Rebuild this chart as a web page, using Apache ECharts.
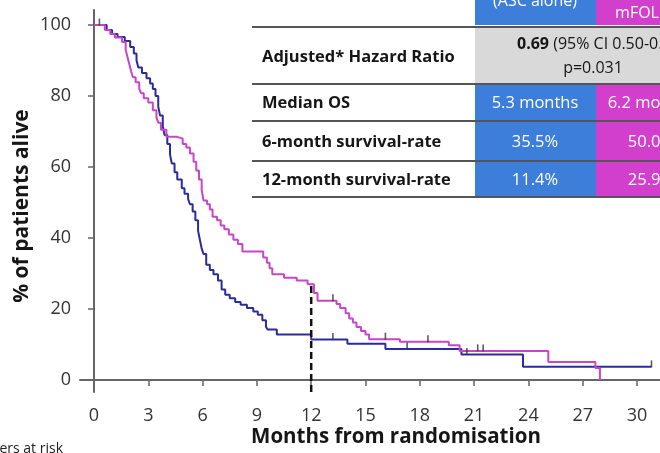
<!DOCTYPE html>
<html>
<head>
<meta charset="utf-8">
<script src="https://cdn.jsdelivr.net/npm/echarts@6/dist/echarts.min.js"></script>
<style>
  html, body { margin: 0; padding: 0; background: #fff; }
  #chart { width: 660px; height: 453px; }
</style>
</head>
<body>
<div id="chart"></div>
<script>
// Kaplan-Meier overall survival, months from randomisation
// ASC alone arm
const ascTimes = [0,0.7,1.0,1.3,1.7,2.0,2.2,2.35,2.45,2.65,2.9,3.1,3.25,3.4,3.55,3.65,3.8,3.9,4.05,4.2,4.3,4.45,4.6,4.85,5.0,5.2,5.3,5.45,5.6,5.75,5.85,5.95,6.05,6.2,6.4,6.6,6.85,7.05,7.25,7.5,7.8,8.1,8.45,8.8,9.05,9.3,9.5,9.6,10.1,12.0,14.0,16.1,20.3,23.7,30.8];
const ascSurv  = [100,98.6,97.5,96.6,95.5,93.8,92,90,88,86.5,85,83.5,82,80,77,74.5,71.5,69,66.5,63.5,61,58.5,56.5,54,52.5,51,49.5,47.5,45,42,39.5,37,35.5,32.5,31,29.8,28,25.5,24,23,22,21.2,20.3,19.3,18.4,16.8,15,14.2,12.8,11.4,10.2,8.7,7.2,3.7,3.7];
const ascCensorTimes = [0.3,13.2,17.3,20.6,30.8];
const ascCensorSurv  = [100,11.4,8.7,7.2,3.7];

// mFOLFOX + ASC arm
const folTimes = [0,0.6,0.9,1.15,1.55,1.75,1.85,1.95,2.05,2.15,2.3,2.5,2.6,2.75,3.0,3.25,3.45,3.55,3.7,4.0,4.6,4.9,5.1,5.3,5.5,5.65,5.8,5.95,6.05,6.25,6.4,6.55,6.8,7.0,7.2,7.45,7.7,7.95,8.2,9.35,9.55,9.7,9.85,10.5,11.2,11.8,12.15,12.35,13.4,13.6,13.9,14.1,14.3,14.5,14.75,15.0,15.2,16.9,19.6,20.2,25.1,27.7,27.95];
const folSurv  = [100,98.6,97.5,96.5,95.2,93,91,89,87,85.3,83.9,82,80.8,79.4,78.2,76,74,72.5,70.5,68.5,68,66.5,65.5,63.8,61.5,59,56.5,53.5,50.6,49.5,48,46,45,43.5,42.5,41,39.5,38.3,36.2,34.5,33,31.5,29.8,28.8,28,27,24.5,22.3,21.4,20.3,18.8,17.3,16.2,14.9,13.8,12.8,11.5,10.8,9.8,8.2,5.1,3.4,0];
const folCensorTimes = [13.2,16.1,18.45,21.2,21.5];
const folCensorSurv  = [22.3,11.5,10.8,8.2,8.2];

// 12-month reference line
const landmarkMonth = 12;
const landmarkTop = 26.5;

const xTicks = [0,3,6,9,12,15,18,21,24,27,30];
const yTicks = [0,20,40,60,80,100];

// Summary table contents
const tableHeaders = ['(ASC alone)', 'mFOLFOX'];
const rowLabels = ['Adjusted* Hazard Ratio', 'Median OS', '6-month survival-rate', '12-month survival-rate'];
const hrText = ['0.69', ' (95% CI 0.50-0.96)', 'p=0.031'];
const ascValues = ['5.3 months', '35.5%', '11.4%'];
const folValues = ['6.2 months', '50.0%', '25.9%'];

const zip = (a, b) => a.map((v, i) => [v, b[i]]);

const FONT = '"Open Sans", Lato, sans-serif';
const BLUE_CELL = '#3c7ed9';
const MAG_CELL = '#d23fcc';
const GREY_CELL = '#d9d9d9';
const RULE = '#555';
const INK = '#161616';

const graphic = [];
// table cells
graphic.push({ type: 'rect', shape: { x: 475, y: 0, width: 121, height: 25 }, style: { fill: BLUE_CELL } });
graphic.push({ type: 'rect', shape: { x: 596, y: 0, width: 120, height: 25 }, style: { fill: MAG_CELL } });
graphic.push({ type: 'rect', shape: { x: 475, y: 28, width: 245, height: 55 }, style: { fill: GREY_CELL } });
const rowBands = [[85, 120], [122, 160], [162, 196]];
rowBands.forEach(([a, b]) => {
  graphic.push({ type: 'rect', shape: { x: 475, y: a, width: 121, height: b - a }, style: { fill: BLUE_CELL } });
  graphic.push({ type: 'rect', shape: { x: 596, y: a, width: 120, height: b - a }, style: { fill: MAG_CELL } });
});
// horizontal rules
[27, 84, 121, 161, 197].forEach(y => {
  graphic.push({ type: 'line', shape: { x1: 252, y1: y, x2: 660, y2: y }, style: { stroke: RULE, lineWidth: 2 } });
});
// header texts
graphic.push({ type: 'text', style: { text: tableHeaders[0], x: 535, y: 1, textAlign: 'center', textVerticalAlign: 'middle', font: '16px ' + FONT, fill: '#fff' } });
graphic.push({ type: 'text', style: { text: tableHeaders[1], x: 652, y: 13, textAlign: 'center', textVerticalAlign: 'middle', font: '16px ' + FONT, fill: '#fff' } });
// row labels
const rowY = [57, 103, 142, 180];
rowLabels.forEach((t, i) => {
  graphic.push({ type: 'text', style: { text: t, x: 262, y: rowY[i], textAlign: 'left', textVerticalAlign: 'middle', font: 'bold 16.5px ' + FONT, fill: INK } });
});
// hazard ratio cell
graphic.push({ type: 'text', style: {
  text: '{b|' + hrText[0] + '}{r|' + hrText[1] + '}', x: 517, y: 44, textAlign: 'left', textVerticalAlign: 'middle',
  rich: { b: { font: 'bold 16px ' + FONT, fill: INK }, r: { font: '16px ' + FONT, fill: INK } }
} });
graphic.push({ type: 'text', style: { text: hrText[2], x: 593, y: 68, textAlign: 'center', textVerticalAlign: 'middle', font: '16px ' + FONT, fill: INK } });
// arm values
ascValues.forEach((t, i) => {
  graphic.push({ type: 'text', style: { text: t, x: 535, y: rowY[i + 1], textAlign: 'center', textVerticalAlign: 'middle', font: '16.5px ' + FONT, fill: '#fff' } });
});
folValues.forEach((t, i) => {
  graphic.push({ type: 'text', style: { text: t, x: 651, y: rowY[i + 1], textAlign: 'center', textVerticalAlign: 'middle', font: '16.5px ' + FONT, fill: '#fff' } });
});
// axis titles
graphic.push({ type: 'text', x: 22, y: 206, rotation: Math.PI / 2, style: { text: '% of patients alive', x: 0, y: 0, textAlign: 'center', textVerticalAlign: 'middle', font: 'bold 21px ' + FONT, fill: INK } });
graphic.push({ type: 'text', style: { text: 'Months from randomisation', x: 396, y: 437, textAlign: 'center', textVerticalAlign: 'middle', font: 'bold 20.5px ' + FONT, fill: INK } });
graphic.push({ type: 'text', style: { text: 'Numbers at risk', x: 63, y: 442, textAlign: 'right', textVerticalAlign: 'top', font: '14px ' + FONT, fill: '#222' } });

const censorSymbol = { symbol: 'rect', symbolSize: [1.6, 7], symbolOffset: [0, -3] };

const chart = echarts.init(document.getElementById('chart'), null, { renderer: 'canvas' });
chart.setOption({
  animation: false,
  backgroundColor: '#fff',
  grid: { left: 80, right: 0, top: 10, bottom: 61, containLabel: false },
  xAxis: {
    type: 'value', min: -0.773, max: 31.27,
    splitLine: { show: false },
    axisLine: { show: true, lineStyle: { color: '#666', width: 2 } },
    axisTick: { show: true, customValues: xTicks, length: 6, lineStyle: { color: '#666', width: 1.5 } },
    axisLabel: { customValues: xTicks, margin: 15, fontSize: 18, fontFamily: FONT, color: '#333' }
  },
  yAxis: {
    type: 'value', min: -3.38, max: 104.23,
    splitLine: { show: false },
    axisLine: { show: true, lineStyle: { color: '#666', width: 2 } },
    axisTick: { show: true, customValues: yTicks, length: 6, lineStyle: { color: '#666', width: 1.5 } },
    axisLabel: { customValues: yTicks, margin: 9, fontSize: 18, fontFamily: FONT, color: '#333' }
  },
  graphic: graphic,
  series: [
    {
      name: 'ASC alone', type: 'line', step: 'end', symbol: 'none',
      data: zip(ascTimes, ascSurv),
      lineStyle: { color: '#2b2c9c', width: 2 }, z: 3
    },
    {
      name: 'mFOLFOX + ASC', type: 'line', step: 'end', symbol: 'none',
      data: zip(folTimes, folSurv),
      lineStyle: { color: '#c845c8', width: 2 }, z: 4
    },
    {
      name: 'landmark', type: 'line', symbol: 'none',
      data: [[landmarkMonth, landmarkTop], [landmarkMonth, -3.38]],
      lineStyle: { color: '#111', width: 2.5, type: [7, 4] }, z: 5
    },
    Object.assign({ name: 'ASC censored', type: 'scatter', data: zip(ascCensorTimes, ascCensorSurv), itemStyle: { color: '#333' }, z: 6 }, censorSymbol),
    Object.assign({ name: 'mFOLFOX censored', type: 'scatter', data: zip(folCensorTimes, folCensorSurv), itemStyle: { color: '#333' }, z: 6 }, censorSymbol)
  ]
});
</script>
</body>
</html>
